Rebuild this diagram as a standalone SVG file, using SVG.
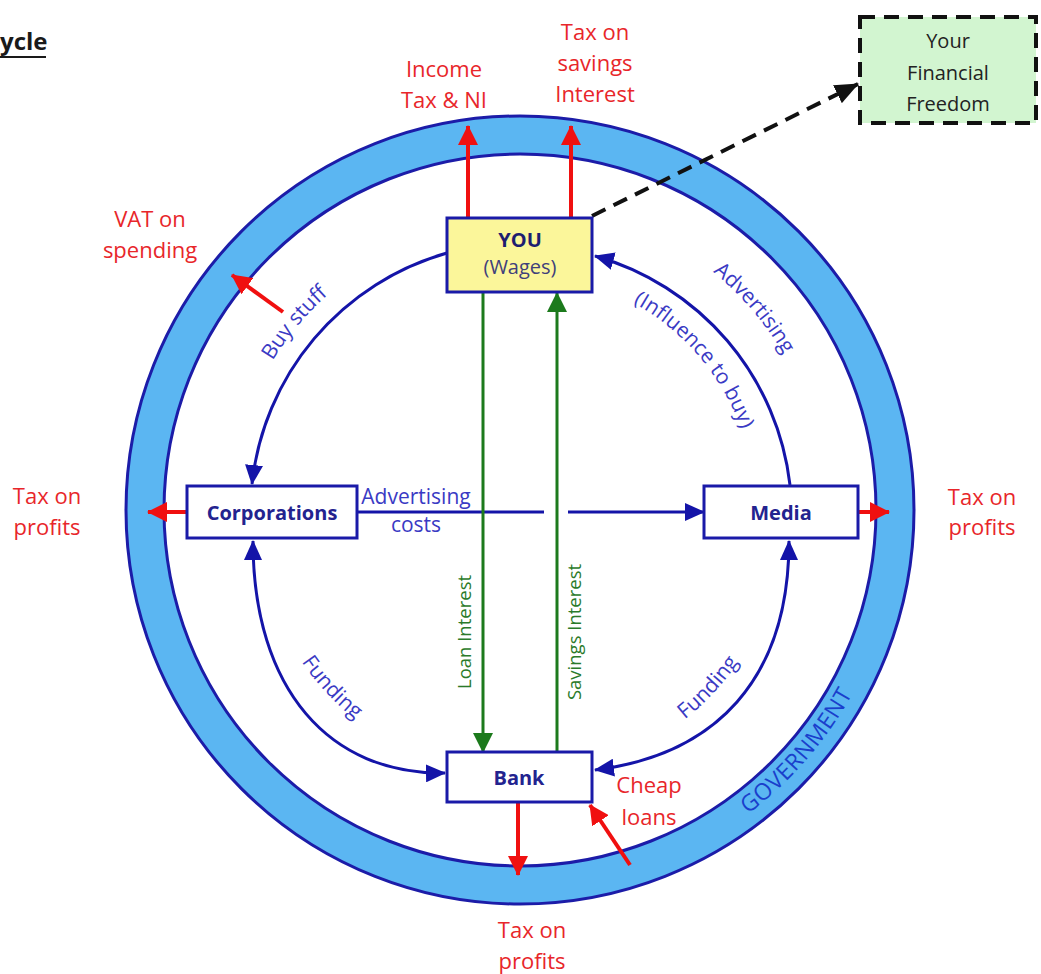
<svg xmlns="http://www.w3.org/2000/svg" width="1041" height="974" viewBox="0 0 1041 974">
<defs>
<style>
text{font-family:"Open Sans","Liberation Sans",sans-serif}
.red{fill:#e8262a;font-size:22px;text-anchor:middle}
.lbl{fill:#23238f;font-size:20px;font-weight:bold;text-anchor:middle}
.blue{fill:#3a3ac4;font-size:21px}
.green{fill:#2a7a2a;font-size:18.5px;text-anchor:middle}
.flow{fill:none;stroke:#1414a8;stroke-width:3}
.tax{stroke:#f01010;stroke-width:4;fill:none}
.gl{stroke:#1c7a1c;stroke-width:3;fill:none}
.box{fill:#fff;stroke:#1a1aa8;stroke-width:3}
</style>
<marker id="ab" markerUnits="userSpaceOnUse" viewBox="0 0 20 18" refX="19" refY="9" markerWidth="20" markerHeight="18" orient="auto-start-reverse"><path d="M0,0L20,9L0,18Z" fill="#1414a8"/></marker>
<marker id="ar" markerUnits="userSpaceOnUse" viewBox="0 0 20 20" refX="19" refY="10" markerWidth="20" markerHeight="20" orient="auto"><path d="M0,0L20,10L0,20Z" fill="#f01010"/></marker>
<marker id="ag" markerUnits="userSpaceOnUse" viewBox="0 0 20 20" refX="19" refY="10" markerWidth="20" markerHeight="20" orient="auto"><path d="M0,0L20,10L0,20Z" fill="#1c7a1c"/></marker>
<marker id="ak" markerUnits="userSpaceOnUse" viewBox="0 0 24 20" refX="23" refY="10" markerWidth="24" markerHeight="20" orient="auto"><path d="M0,0L24,10L0,20Z" fill="#111"/></marker>
<path id="pBuy" d="M234.4,461.6A290,290 0 0 1 420.8,239.5"/>
<path id="pAdv" d="M620.8,220.2A306,306 0 0 1 820.4,453.6"/>
<path id="pInf" d="M597.5,287A236,236 0 0 1 751.6,467"/>
<path id="pFL" d="M261.8,571.6A265,265 0 0 0 442.5,765.4"/>
<path id="pFR" d="M597.5,765.4A265,265 0 0 0 778.2,571.6"/>
<path id="pGov" d="M643.7,869.3A380,380 0 0 0 893,582.5"/>
</defs>
<rect width="1041" height="974" fill="#fff"/>

<g id="title">
<text x="0" y="50" style="font-size:24px;font-weight:bold;fill:#1a1a1a">ycle</text>
<line x1="0" y1="57" x2="46" y2="57" stroke="#1a1a1a" stroke-width="2"/>
</g>

<g id="government">
<circle cx="520" cy="510" r="375" fill="none" stroke="#5bb6f2" stroke-width="38"/>
<circle cx="520" cy="510" r="394" fill="none" stroke="#1c1ca8" stroke-width="3"/>
<circle cx="520" cy="510" r="356" fill="none" stroke="#1c1ca8" stroke-width="3"/>
<text style="font-size:23px;fill:#1a3fcc;letter-spacing:0.5px"><textPath href="#pGov" startOffset="50%" text-anchor="middle">GOVERNMENT</textPath></text>
</g>

<g id="connectors">
<path class="flow" d="M447,253A270,270 0 0 0 252,484" marker-end="url(#ab)"/>
<path class="flow" d="M790,485A270,270 0 0 0 595,256" marker-end="url(#ab)"/>
<path class="flow" d="M253,541C253,690 330,775 445,773" marker-start="url(#ab)" marker-end="url(#ab)"/>
<path class="flow" d="M789,541C789,680 715,755 595,770" marker-start="url(#ab)" marker-end="url(#ab)"/>
<path class="flow" d="M357,512H544"/>
<path class="flow" d="M568,512H704" marker-end="url(#ab)"/>
<path class="gl" d="M483,292V752" marker-end="url(#ag)"/>
<path class="gl" d="M557,752V293" marker-end="url(#ag)"/>
<path class="tax" d="M468,218V126" marker-end="url(#ar)"/>
<path class="tax" d="M571,218V126" marker-end="url(#ar)"/>
<path class="tax" d="M283,312L232,275" marker-end="url(#ar)"/>
<path class="tax" d="M187,512H148" marker-end="url(#ar)"/>
<path class="tax" d="M858,512H889" marker-end="url(#ar)"/>
<path class="tax" d="M518,802V875" marker-end="url(#ar)"/>
<path class="tax" d="M630,865L590,805" marker-end="url(#ar)"/>
<path d="M592,216L858,84" fill="none" stroke="#111" stroke-width="4" stroke-dasharray="15 9" marker-end="url(#ak)"/>
</g>

<g id="labels">
<text class="red"><tspan x="444" y="77">Income</tspan><tspan x="444" y="108">Tax &amp; NI</tspan></text>
<text class="red"><tspan x="595" y="40">Tax on</tspan><tspan x="595" y="71">savings</tspan><tspan x="595" y="102">Interest</tspan></text>
<text class="red"><tspan x="150" y="227">VAT on</tspan><tspan x="150" y="258">spending</tspan></text>
<text class="red"><tspan x="47" y="504">Tax on</tspan><tspan x="47" y="535">profits</tspan></text>
<text class="red"><tspan x="982" y="505">Tax on</tspan><tspan x="982" y="535">profits</tspan></text>
<text class="red"><tspan x="532" y="938">Tax on</tspan><tspan x="532" y="969">profits</tspan></text>
<text class="red"><tspan x="649" y="793">Cheap</tspan><tspan x="649" y="825">loans</tspan></text>
<text class="blue" text-anchor="middle"><tspan x="416" y="504">Advertising</tspan><tspan x="416" y="532">costs</tspan></text>
<text class="blue"><textPath href="#pBuy" startOffset="50%" text-anchor="middle">Buy stuff</textPath></text>
<text class="blue"><textPath href="#pAdv" startOffset="50%" text-anchor="middle">Advertising</textPath></text>
<text class="blue"><textPath href="#pInf" startOffset="50%" text-anchor="middle">(Influence to buy)</textPath></text>
<text class="blue"><textPath href="#pFL" startOffset="50%" text-anchor="middle">Funding</textPath></text>
<text class="blue"><textPath href="#pFR" startOffset="50%" text-anchor="middle">Funding</textPath></text>
<text class="green" transform="translate(471,632) rotate(-90)">Loan Interest</text>
<text class="green" transform="translate(581,632) rotate(-90)">Savings Interest</text>
</g>

<g id="you">
<rect x="447" y="218" width="145" height="74" fill="#fbf69a" stroke="#1a1aa8" stroke-width="3"/>
<text class="lbl" x="520" y="247" style="fill:#1e1e70">YOU</text>
<text x="520" y="274" text-anchor="middle" style="font-size:20px;fill:#40407a">(Wages)</text>
</g>
<g id="corporations">
<rect class="box" x="187" y="486" width="170" height="52"/>
<text class="lbl" x="272" y="520">Corporations</text>
</g>
<g id="media">
<rect class="box" x="704" y="486" width="154" height="52"/>
<text class="lbl" x="781" y="520">Media</text>
</g>
<g id="bank">
<rect class="box" x="447" y="752" width="145" height="50"/>
<text class="lbl" x="519" y="785">Bank</text>
</g>
<g id="freedom">
<rect x="860" y="17" width="176" height="106" fill="#d2f5d0" stroke="#111" stroke-width="4" stroke-dasharray="15 9"/>
<text style="font-size:20px;fill:#222;text-anchor:middle"><tspan x="948" y="48">Your</tspan><tspan x="948" y="80">Financial</tspan><tspan x="948" y="111">Freedom</tspan></text>
</g>
</svg>
